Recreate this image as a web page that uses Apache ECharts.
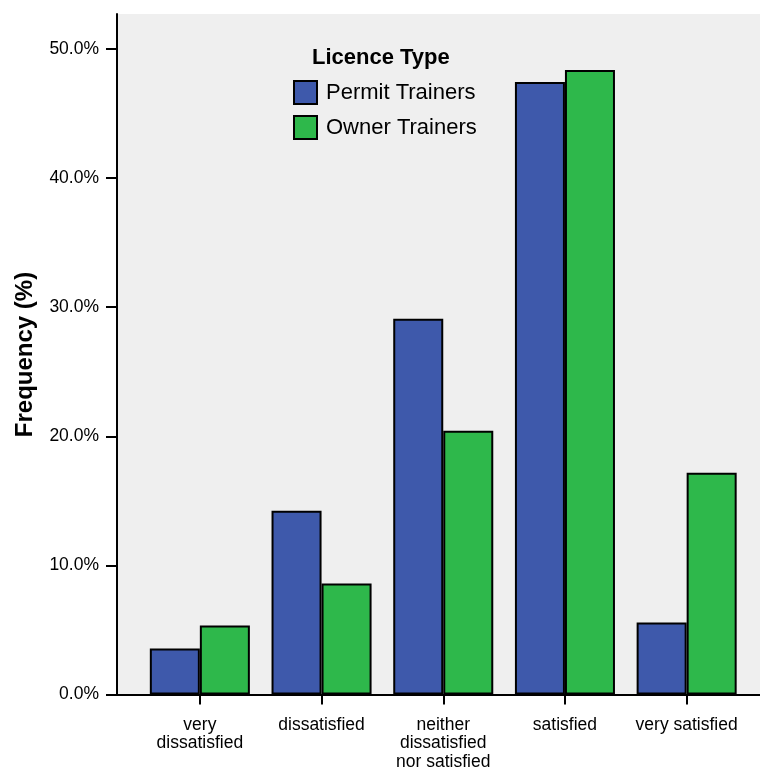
<!DOCTYPE html>
<html>
<head>
<meta charset="utf-8">
<script src="https://cdn.jsdelivr.net/npm/echarts@6/dist/echarts.min.js"></script>
<style>
html,body{margin:0;padding:0;background:#fff;}
#chart{width:760px;height:771px;}
</style>
</head>
<body>
<div id="chart"></div>
<script>
const categories = ['very\ndissatisfied', 'dissatisfied', 'neither\ndissatisfied\nnor satisfied', 'satisfied', 'very satisfied'];
const seriesNames = ['Permit Trainers', 'Owner Trainers'];
const permitValues = [3.56, 14.24, 29.1, 47.45, 5.57];
const ownerValues = [5.34, 8.59, 20.43, 48.37, 17.18];
const yTickValues = [0, 10, 20, 30, 40, 50];
const yAxisTitle = 'Frequency (%)';
const legendTitle = 'Licence Type';

const FONT = '"Liberation Sans", Arial, sans-serif';
const chart = echarts.init(document.getElementById('chart'), null, {renderer: 'canvas'});
const black = '#000';

chart.setOption({
  animation: false,
  backgroundColor: '#fff',
  title: {
    text: legendTitle,
    left: 312, top: 47, padding: 0,
    textStyle: {fontFamily: FONT, fontSize: 22, fontWeight: 'bold', color: black}
  },
  legend: {
    orient: 'vertical',
    left: 293, top: 80,
    padding: 0,
    itemWidth: 23, itemHeight: 23, itemGap: 10,
    icon: 'rect',
    itemStyle: {borderColor: black, borderWidth: 2},
    textStyle: {fontFamily: FONT, fontSize: 22, color: black, padding: [0, 0, 0, 4]},
    data: seriesNames
  },
  grid: [
    {left: 117, right: 0, top: 14, bottom: 76, show: true, backgroundColor: '#efefef', borderWidth: 0},
    {left: 139, width: 608.5, top: 49, bottom: 76}
  ],
  xAxis: [
    {gridIndex: 0, type: 'value', position: 'top', min: 0, max: 1,
     axisLine: {show: true, lineStyle: {color: black, width: 2}},
     axisTick: {show: false}, axisLabel: {show: false}, splitLine: {show: false}},
    {gridIndex: 0, type: 'value', position: 'bottom', min: 0, max: 1,
     axisLine: {show: true, lineStyle: {color: black, width: 2}},
     axisTick: {show: false}, axisLabel: {show: false}, splitLine: {show: false}},
    {gridIndex: 1, type: 'category', data: categories,
     axisLine: {show: true, lineStyle: {color: black, width: 2}},
     axisTick: {show: true, alignWithLabel: true, length: 10, lineStyle: {color: black, width: 2}},
     axisLabel: {fontFamily: FONT, fontSize: 17.5, lineHeight: 18.5, color: black, margin: 21, interval: 0}}
  ],
  yAxis: [
    {gridIndex: 0, type: 'value', min: 0, max: 1,
     axisLine: {show: true, lineStyle: {color: black, width: 2}},
     axisTick: {show: false}, axisLabel: {show: false}, splitLine: {show: false},
     name: yAxisTitle, nameLocation: 'middle', nameRotate: 90, nameGap: 80,
     nameTextStyle: {fontFamily: FONT, fontSize: 24, fontWeight: 'bold', color: black}},
    {gridIndex: 1, type: 'value', min: 0, max: 50, interval: 10, offset: 22,
     axisLine: {show: false},
     axisTick: {show: true, length: 11, lineStyle: {color: black, width: 2}},
     axisLabel: {fontFamily: FONT, fontSize: 17.5, color: black, margin: 18,
       formatter: v => yTickValues.includes(v) ? v.toFixed(1) + '%' : ''},
     splitLine: {show: false}}
  ],
  series: [
    {name: seriesNames[0], type: 'bar', xAxisIndex: 2, yAxisIndex: 1, data: permitValues,
     barGap: '0%', barCategoryGap: '17.8%',
     itemStyle: {color: '#3e59ab', borderColor: black, borderWidth: 2}},
    {name: seriesNames[1], type: 'bar', xAxisIndex: 2, yAxisIndex: 1, data: ownerValues,
     barGap: '0%', barCategoryGap: '17.8%',
     itemStyle: {color: '#2eb84b', borderColor: black, borderWidth: 2}}
  ]
});
</script>
</body>
</html>
